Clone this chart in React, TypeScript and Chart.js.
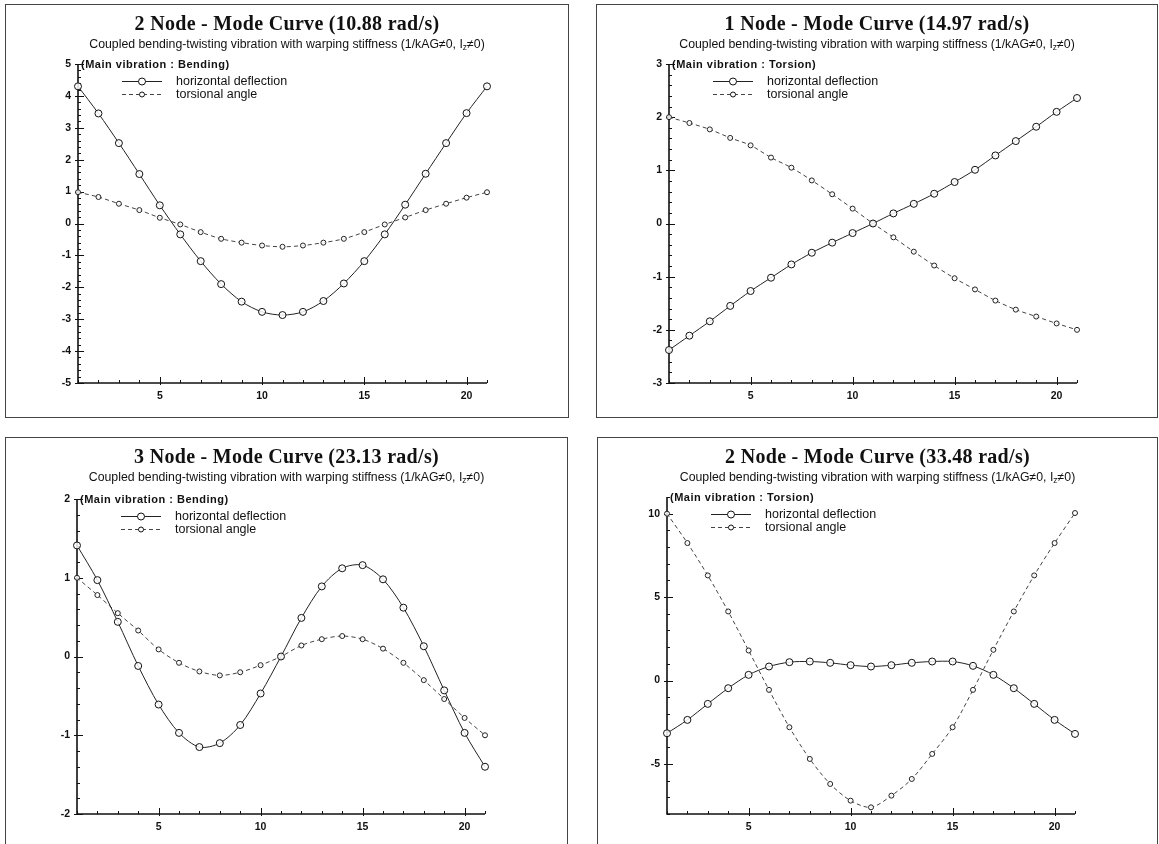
import React, { useEffect, useRef } from "react";
import { Chart, registerables } from "chart.js";

Chart.register(...registerables);

const FONT_SANS = '"Liberation Sans", Arial, Helvetica, sans-serif';
const FONT_SERIF = '"Liberation Serif", "Times New Roman", serif';

// ---------- shared data ----------
const stations = [1, 2, 3, 4, 5, 6, 7, 8, 9, 10, 11, 12, 13, 14, 15, 16, 17, 18, 19, 20, 21];
const xTickLabels = [5, 10, 15, 20];
const legendLabels = ["horizontal deflection", "torsional angle"];
const subtitleMain = "Coupled bending-twisting vibration with warping stiffness (1/kAG\u22600, I";
const subtitleSub = "z";
const subtitleEnd = "\u22600)";

// ---------- panel 1 : 2 node, bending ----------
const p1Title = "2 Node - Mode Curve (10.88 rad/s)";
const p1Main = "(Main vibration : Bending)";
const p1Deflection = [4.3, 3.45, 2.52, 1.55, 0.57, -0.34, -1.18, -1.9, -2.45, -2.77, -2.87, -2.77, -2.43, -1.88, -1.18, -0.34, 0.59, 1.56, 2.52, 3.46, 4.3];
const p1Torsion = [0.98, 0.83, 0.62, 0.42, 0.18, -0.03, -0.27, -0.48, -0.6, -0.69, -0.73, -0.69, -0.6, -0.48, -0.27, -0.03, 0.19, 0.42, 0.62, 0.81, 0.98];
const p1YTicks = [-5, -4, -3, -2, -1, 0, 1, 2, 3, 4, 5];

// ---------- panel 2 : 1 node, torsion ----------
const p2Title = "1 Node - Mode Curve (14.97 rad/s)";
const p2Main = "(Main vibration : Torsion)";
const p2Deflection = [-2.38, -2.11, -1.84, -1.55, -1.27, -1.02, -0.77, -0.55, -0.36, -0.18, 0, 0.19, 0.37, 0.56, 0.78, 1.01, 1.28, 1.55, 1.82, 2.1, 2.36];
const p2Torsion = [2.0, 1.89, 1.77, 1.61, 1.47, 1.24, 1.05, 0.81, 0.55, 0.28, 0, -0.26, -0.53, -0.79, -1.03, -1.24, -1.45, -1.62, -1.75, -1.88, -2.0];
const p2YTicks = [-3, -2, -1, 0, 1, 2, 3];

// ---------- panel 3 : 3 node, bending ----------
const p3Title = "3 Node - Mode Curve (23.13 rad/s)";
const p3Main = "(Main vibration : Bending)";
const p3Deflection = [1.41, 0.97, 0.44, -0.12, -0.61, -0.97, -1.15, -1.1, -0.87, -0.47, 0, 0.49, 0.89, 1.12, 1.16, 0.98, 0.62, 0.13, -0.43, -0.97, -1.4];
const p3Torsion = [1.0, 0.78, 0.55, 0.33, 0.09, -0.08, -0.19, -0.24, -0.2, -0.11, 0, 0.14, 0.22, 0.26, 0.22, 0.1, -0.08, -0.3, -0.54, -0.78, -1.0];
const p3YTicks = [-2, -1, 0, 1, 2];

// ---------- panel 4 : 2 node, torsion ----------
const p4Title = "2 Node - Mode Curve (33.48 rad/s)";
const p4Main = "(Main vibration : Torsion)";
const p4Deflection = [-3.16, -2.36, -1.4, -0.46, 0.34, 0.84, 1.1, 1.14, 1.06, 0.92, 0.84, 0.92, 1.06, 1.14, 1.14, 0.88, 0.34, -0.46, -1.4, -2.36, -3.2];
const p4Torsion = [10.0, 8.24, 6.3, 4.14, 1.8, -0.56, -2.8, -4.7, -6.2, -7.2, -7.6, -6.9, -5.9, -4.4, -2.8, -0.56, 1.84, 4.14, 6.3, 8.24, 10.04];
const p4YTicks = [-5, 0, 5, 10];

interface Panel {
  key: string;
  title: string;
  mainLabel: string;
  deflection: number[];
  torsion: number[];
  yTicks: number[];
  yMin: number;
  yMax: number;
  yMinorStep: number;
  box: { left: number; top: number; width: number; height: number; openBottom: boolean };
  area: { l: number; r: number; t: number; b: number };
}

const panels: Panel[] = [
  {
    key: "p1", title: p1Title, mainLabel: p1Main, deflection: p1Deflection, torsion: p1Torsion,
    yTicks: p1YTicks, yMin: -5, yMax: 5, yMinorStep: 0.2,
    box: { left: 5, top: 4, width: 564, height: 414, openBottom: false },
    area: { l: 73, r: 482, t: 60, b: 379 },
  },
  {
    key: "p2", title: p2Title, mainLabel: p2Main, deflection: p2Deflection, torsion: p2Torsion,
    yTicks: p2YTicks, yMin: -3, yMax: 3, yMinorStep: 0.2,
    box: { left: 596, top: 4, width: 562, height: 414, openBottom: false },
    area: { l: 73, r: 481, t: 60, b: 379 },
  },
  {
    key: "p3", title: p3Title, mainLabel: p3Main, deflection: p3Deflection, torsion: p3Torsion,
    yTicks: p3YTicks, yMin: -2, yMax: 2, yMinorStep: 0.2,
    box: { left: 5, top: 437, width: 563, height: 407, openBottom: true },
    area: { l: 72, r: 480, t: 62, b: 377 },
  },
  {
    key: "p4", title: p4Title, mainLabel: p4Main, deflection: p4Deflection, torsion: p4Torsion,
    yTicks: p4YTicks, yMin: -8, yMax: 11, yMinorStep: 1,
    box: { left: 597, top: 437, width: 561, height: 407, openBottom: true },
    area: { l: 70, r: 478, t: 60, b: 377 },
  },
];

const Y_AXIS_W = 30;
const X_AXIS_H = 25;

function decorPlugin(p: Panel) {
  return {
    id: "decor_" + p.key,
    beforeDatasetsDraw(chart: any) {
      const ctx: CanvasRenderingContext2D = chart.ctx;
      const { left, right, top, bottom } = chart.chartArea;
      const xs = chart.scales.x;
      const ys = chart.scales.y;
      ctx.save();
      ctx.strokeStyle = "#111";
      ctx.lineWidth = 1.6;
      ctx.beginPath();
      ctx.moveTo(left, top);
      ctx.lineTo(left, bottom);
      ctx.lineTo(right, bottom);
      ctx.stroke();
      ctx.lineWidth = 1;
      ctx.beginPath();
      for (const v of stations) {
        const px = Math.round(xs.getPixelForValue(v)) + 0.5;
        const major = xTickLabels.includes(v);
        ctx.moveTo(px, bottom + (major ? 2 : 0));
        ctx.lineTo(px, bottom - (major ? 6 : 3));
      }
      const nMinor = Math.round((p.yMax - p.yMin) / p.yMinorStep);
      for (let i = 0; i <= nMinor; i++) {
        const v = p.yMin + i * p.yMinorStep;
        const py = Math.round(ys.getPixelForValue(v)) + 0.5;
        ctx.moveTo(left, py);
        ctx.lineTo(left + 3, py);
      }
      for (const v of p.yTicks) {
        const py = Math.round(ys.getPixelForValue(v)) + 0.5;
        ctx.moveTo(left - 3, py);
        ctx.lineTo(left + 6, py);
      }
      ctx.stroke();
      ctx.restore();
    },
    afterDraw(chart: any) {
      const ctx: CanvasRenderingContext2D = chart.ctx;
      const { left, top } = chart.chartArea;
      const W = chart.width;
      const H = chart.height;
      ctx.save();
      ctx.strokeStyle = "#444";
      ctx.lineWidth = 1;
      ctx.strokeRect(0.5, 0.5, W - 1, H - 1 + (p.box.openBottom ? 30 : 0));

      const cx = W / 2;
      ctx.fillStyle = "#111";
      ctx.font = `bold 20px ${FONT_SERIF}`;
      ctx.textAlign = "center";
      ctx.textBaseline = "middle";
      (ctx as any).letterSpacing = "0.3px";
      ctx.fillText(p.title, cx, 21);
      (ctx as any).letterSpacing = "0px";

      const SUB = 12.3;
      ctx.font = `${SUB}px ${FONT_SANS}`;
      const w1 = ctx.measureText(subtitleMain).width;
      const w3 = ctx.measureText(subtitleEnd).width;
      ctx.font = `8.5px ${FONT_SANS}`;
      const w2 = ctx.measureText(subtitleSub).width;
      let sx = cx - (w1 + w2 + w3) / 2;
      ctx.textAlign = "left";
      ctx.font = `${SUB}px ${FONT_SANS}`;
      ctx.fillText(subtitleMain, sx, 41);
      sx += w1;
      ctx.font = `8.5px ${FONT_SANS}`;
      ctx.fillText(subtitleSub, sx, 44);
      sx += w2;
      ctx.font = `${SUB}px ${FONT_SANS}`;
      ctx.fillText(subtitleEnd, sx, 41);

      ctx.font = `bold 11px ${FONT_SANS}`;
      (ctx as any).letterSpacing = "0.5px";
      ctx.fillText(p.mainLabel, left + 3, top + 1);
      (ctx as any).letterSpacing = "0px";

      const sx0 = left + 44;
      const sx1 = left + 84;
      const rows = [top + 17, top + 30];
      ctx.font = `12.5px ${FONT_SANS}`;
      rows.forEach((ry, i) => {
        ctx.strokeStyle = i === 0 ? "#222" : "#444";
        ctx.lineWidth = 1;
        ctx.setLineDash(i === 0 ? [] : [4, 3]);
        ctx.beginPath();
        ctx.moveTo(sx0, ry + 0.5);
        ctx.lineTo(sx1, ry + 0.5);
        ctx.stroke();
        ctx.setLineDash([]);
        ctx.beginPath();
        ctx.arc((sx0 + sx1) / 2, ry + 0.5, i === 0 ? 3.5 : 2.5, 0, Math.PI * 2);
        ctx.fillStyle = "#fff";
        ctx.fill();
        ctx.strokeStyle = "#111";
        ctx.stroke();
        ctx.fillStyle = "#111";
        ctx.fillText(legendLabels[i], left + 98, ry + 1);
      });
      ctx.restore();
    },
  };
}

function buildConfig(p: Panel): any {
  const { width, height } = p.box;
  return {
    type: "line",
    data: {
      datasets: [
        {
          label: legendLabels[0],
          data: stations.map((x, i) => ({ x, y: p.deflection[i] })),
          borderColor: "#222",
          borderWidth: 1,
          pointRadius: 3.5,
          pointBorderWidth: 1,
          pointBorderColor: "#111",
          pointBackgroundColor: "rgba(255,255,255,0.85)",
          tension: 0.3,
          clip: false,
        },
        {
          label: legendLabels[1],
          data: stations.map((x, i) => ({ x, y: p.torsion[i] })),
          borderColor: "#444",
          borderWidth: 1,
          borderDash: [4, 3],
          pointRadius: 2.5,
          pointBorderWidth: 1,
          pointBorderColor: "#222",
          pointBackgroundColor: "rgba(255,255,255,0.85)",
          tension: 0.3,
          clip: false,
        },
      ],
    },
    options: {
      animation: false,
      responsive: false,
      devicePixelRatio: 1,
      events: [],
      layout: {
        padding: {
          left: p.area.l - Y_AXIS_W,
          top: p.area.t,
          right: width - p.area.r,
          bottom: height - p.area.b - X_AXIS_H,
        },
      },
      plugins: {
        legend: { display: false },
        title: { display: false },
        tooltip: { enabled: false },
      },
      scales: {
        x: {
          type: "linear",
          min: 1,
          max: 21,
          grid: { display: false, drawTicks: false },
          border: { display: false },
          afterBuildTicks: (s: any) => {
            s.ticks = xTickLabels.map((v) => ({ value: v }));
          },
          afterFit: (s: any) => {
            s.height = X_AXIS_H;
          },
          ticks: {
            autoSkip: false,
            maxRotation: 0,
            padding: 7,
            color: "#111",
            font: { family: FONT_SANS, size: 10.5, weight: "bold" },
          },
        },
        y: {
          type: "linear",
          min: p.yMin,
          max: p.yMax,
          grid: { display: false, drawTicks: false },
          border: { display: false },
          afterBuildTicks: (s: any) => {
            s.ticks = p.yTicks.map((v) => ({ value: v }));
          },
          afterFit: (s: any) => {
            s.width = Y_AXIS_W;
          },
          ticks: {
            autoSkip: false,
            padding: 7,
            color: "#111",
            font: { family: FONT_SANS, size: 10.5, weight: "bold" },
            callback: (v: any) => String(v),
          },
        },
      },
    },
    plugins: [decorPlugin(p)],
  };
}

function PanelChart({ p }: { p: Panel }) {
  const ref = useRef<HTMLCanvasElement>(null);
  useEffect(() => {
    const canvas = ref.current;
    if (!canvas) return;
    const chart = new Chart(canvas, buildConfig(p));
    return () => chart.destroy();
  }, [p]);
  return (
    <canvas
      ref={ref}
      width={p.box.width}
      height={p.box.height}
      style={{
        position: "absolute",
        left: p.box.left,
        top: p.box.top,
        width: p.box.width,
        height: p.box.height,
      }}
    />
  );
}

export default function App() {
  return (
    <div
      style={{
        position: "absolute",
        left: 0,
        top: 0,
        width: 1159,
        height: 844,
        background: "#fff",
        overflow: "hidden",
      }}
    >
      {panels.map((p) => (
        <PanelChart key={p.key} p={p} />
      ))}
    </div>
  );
}
